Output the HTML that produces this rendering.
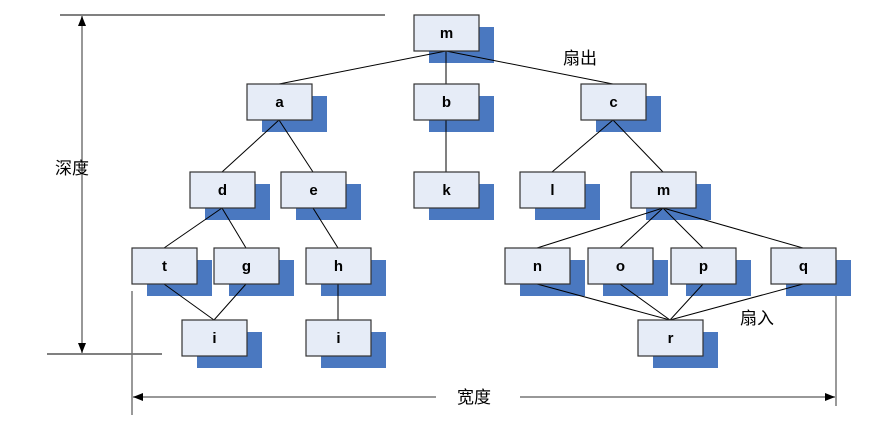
<!DOCTYPE html><html><head><style>body{margin:0;background:#fff}</style></head><body>
<svg width="880" height="424" xmlns="http://www.w3.org/2000/svg" font-family="Liberation Sans, Noto Sans CJK SC, sans-serif">
<defs><marker id="ar" markerWidth="10" markerHeight="8" refX="10" refY="4" orient="auto-start-reverse" markerUnits="userSpaceOnUse"><path d="M0,0L10,4L0,8z" fill="#000"/></marker></defs>
<g stroke="#000" stroke-width="1" fill="none">
<line x1="60" y1="15" x2="385" y2="15"/><line x1="47" y1="354" x2="162" y2="354"/>
</g>
<g stroke="#777" stroke-width="1.5" fill="none">
<line x1="82" y1="16" x2="82" y2="353" marker-start="url(#ar)" marker-end="url(#ar)"/>
<line x1="132" y1="291" x2="132" y2="415"/><line x1="836" y1="290" x2="836" y2="406"/>
<line x1="133" y1="397" x2="436" y2="397" marker-start="url(#ar)"/>
<line x1="520" y1="397" x2="835" y2="397" marker-end="url(#ar)"/>
</g>
<g font-size="17" fill="#000"><text x="55" y="174">深度</text><text x="457" y="403">宽度</text><text x="563" y="64">扇出</text><text x="740" y="324">扇入</text></g>
<g fill="#4a78c0">
<rect x="429" y="27" width="65" height="36"/>
<rect x="262" y="96" width="65" height="36"/><rect x="429" y="96" width="65" height="36"/><rect x="596" y="96" width="65" height="36"/>
<rect x="205" y="184" width="65" height="36"/><rect x="296" y="184" width="65" height="36"/><rect x="429" y="184" width="65" height="36"/><rect x="535" y="184" width="65" height="36"/><rect x="646" y="184" width="65" height="36"/>
<rect x="147" y="260" width="65" height="36"/><rect x="229" y="260" width="65" height="36"/><rect x="321" y="260" width="65" height="36"/><rect x="520" y="260" width="65" height="36"/><rect x="603" y="260" width="65" height="36"/><rect x="686" y="260" width="65" height="36"/><rect x="786" y="260" width="65" height="36"/>
<rect x="197" y="332" width="65" height="36"/><rect x="321" y="332" width="65" height="36"/><rect x="653" y="332" width="65" height="36"/>
</g>
<g stroke="#000" stroke-width="1">
<line x1="446" y1="51" x2="279" y2="84"/><line x1="446" y1="51" x2="446" y2="84"/><line x1="446" y1="51" x2="613" y2="84"/>
<line x1="279" y1="120" x2="222" y2="172"/><line x1="279" y1="120" x2="313" y2="172"/>
<line x1="446" y1="120" x2="446" y2="172"/>
<line x1="613" y1="120" x2="552" y2="172"/><line x1="613" y1="120" x2="663" y2="172"/>
<line x1="222" y1="208" x2="164" y2="248"/><line x1="222" y1="208" x2="246" y2="248"/>
<line x1="313" y1="208" x2="338" y2="248"/>
<line x1="663" y1="208" x2="537" y2="248"/><line x1="663" y1="208" x2="620" y2="248"/><line x1="663" y1="208" x2="703" y2="248"/><line x1="663" y1="208" x2="803" y2="248"/>
<line x1="164" y1="284" x2="214" y2="320"/><line x1="246" y1="284" x2="214" y2="320"/>
<line x1="338" y1="284" x2="338" y2="320"/>
<line x1="537" y1="284" x2="670" y2="320"/><line x1="620" y1="284" x2="670" y2="320"/><line x1="703" y1="284" x2="670" y2="320"/><line x1="803" y1="284" x2="670" y2="320"/>
</g>
<g fill="#e6ecf7" stroke="#333" stroke-width="1.2">
<rect x="414" y="15" width="65" height="36"/>
<rect x="247" y="84" width="65" height="36"/><rect x="414" y="84" width="65" height="36"/><rect x="581" y="84" width="65" height="36"/>
<rect x="190" y="172" width="65" height="36"/><rect x="281" y="172" width="65" height="36"/><rect x="414" y="172" width="65" height="36"/><rect x="520" y="172" width="65" height="36"/><rect x="631" y="172" width="65" height="36"/>
<rect x="132" y="248" width="65" height="36"/><rect x="214" y="248" width="65" height="36"/><rect x="306" y="248" width="65" height="36"/><rect x="505" y="248" width="65" height="36"/><rect x="588" y="248" width="65" height="36"/><rect x="671" y="248" width="65" height="36"/><rect x="771" y="248" width="65" height="36"/>
<rect x="182" y="320" width="65" height="36"/><rect x="306" y="320" width="65" height="36"/><rect x="638" y="320" width="65" height="36"/>
</g>
<g font-size="15" font-weight="bold" text-anchor="middle" fill="#000">
<text x="446.5" y="38">m</text>
<text x="279.5" y="107">a</text><text x="446.5" y="107">b</text><text x="613.5" y="107">c</text>
<text x="222.5" y="195">d</text><text x="313.5" y="195">e</text><text x="446.5" y="195">k</text><text x="552.5" y="195">l</text><text x="663.5" y="195">m</text>
<text x="164.5" y="271">t</text><text x="246.5" y="271">g</text><text x="338.5" y="271">h</text><text x="537.5" y="271">n</text><text x="620.5" y="271">o</text><text x="703.5" y="271">p</text><text x="803.5" y="271">q</text>
<text x="214.5" y="343">i</text><text x="338.5" y="343">i</text><text x="670.5" y="343">r</text>
</g>
</svg></body></html>
